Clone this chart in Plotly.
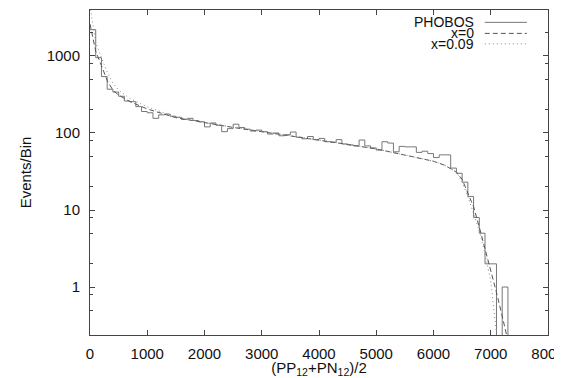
import plotly.graph_objects as go

# ---- data ----
bin_width = 100
hist_counts = [2200, 950, 540, 370, 340, 300, 260, 255, 220, 190,
               183, 155, 172, 176, 165, 160, 150, 155, 145, 140,
               120, 135, 126, 104, 114, 130, 118, 112, 106, 109,
               104, 97, 100, 92, 95, 103, 88, 84, 90, 82,
               85, 77, 76, 82, 72, 70, 68, 81, 68, 64,
               60, 77, 74, 57, 67, 66, 66, 56, 58, 54,
               48, 52, 52, 35, 30, 23, 15, 8, 5, 2,
               2, 0, 1, 0]
model_x = [0, 100, 200, 300, 400, 500, 700, 1000, 1500, 2000, 2500, 3000, 3500, 4000,
           4500, 5000, 5500, 6000, 6200, 6400, 6500, 6600, 6700, 6800, 6900, 7000,
           7100, 7200, 7300]
model_x0 = [2600, 1150, 750, 480, 360, 310, 255, 205, 158, 135, 118, 104, 92, 81,
            71, 62, 52, 43, 38, 31, 25, 17, 11, 6, 3.2, 1.7, 0.85, 0.42, 0.2]
model_x009 = [4500, 1500, 950, 620, 445, 360, 280, 218, 162, 137, 119, 104, 92, 81,
              71, 62, 52, 43, 38, 31, 23, 15, 9, 5.4, 2.7, 1.2, 0.25, 0.08, 0.03]
x_ticks = [0, 1000, 2000, 3000, 4000, 5000, 6000, 7000, 8000]
y_ticks = [1, 10, 100, 1000]
legend_names = ["PHOBOS", "x=0", "x=0.09"]

FLOOR = 1e-3  # empty bins drawn down past the axis
edges = [i * bin_width for i in range(len(hist_counts) + 1)]
hx = edges
hy = [c if c > 0 else FLOOR for c in hist_counts] + [FLOOR]

FONT = "Liberation Sans, Arial, sans-serif"
C_AX = "#444444"
C_HIST = "#777777"
C_DASH = "#555555"
C_DOT = "#888888"

fig = go.Figure()
fig.add_trace(go.Scatter(x=hx, y=hy, mode="lines", line=dict(shape="hv", color=C_HIST, width=1),
                         name=legend_names[0], showlegend=False))
fig.add_trace(go.Scatter(x=model_x, y=model_x0, mode="lines",
                         line=dict(color=C_DASH, width=1, dash="5px,3px"),
                         name=legend_names[1], showlegend=False))
fig.add_trace(go.Scatter(x=model_x, y=model_x009, mode="lines",
                         line=dict(color=C_DOT, width=1, dash="1px,3px"),
                         name=legend_names[2], showlegend=False))

# manual legend (text left of sample line)
styles = [dict(color=C_HIST, width=1), dict(color=C_DASH, width=1, dash="5px,3px"),
          dict(color=C_DOT, width=1, dash="1px,3px")]
leg_y = [0.962, 0.928, 0.896]
for name, st, yy in zip(legend_names, styles, leg_y):
    fig.add_annotation(x=0.841, y=yy, xref="paper", yref="paper", text=name, showarrow=False,
                       xanchor="right", yanchor="middle", borderpad=0,
                       font=dict(family=FONT, size=14, color="#111"))
    fig.add_shape(type="line", xref="paper", yref="paper", x0=0.862, x1=0.954, y0=yy, y1=yy, line=st)

# page body has an 8px default margin; figure sized/margined to compensate
fig.update_layout(
    width=554, height=370,
    margin=dict(l=82, r=14, t=2, b=43, autoexpand=False),
    paper_bgcolor="white", plot_bgcolor="white",
    font=dict(family=FONT, size=15, color="#111"),
    showlegend=False,
)
fig.update_xaxes(
    range=[0, 8000], tickvals=x_ticks, ticktext=[str(v) for v in x_ticks],
    ticks="inside", ticklen=5, tickcolor=C_AX, showline=True, linecolor=C_AX, linewidth=1,
    mirror="ticks", showgrid=False, zeroline=False, automargin=False,
    ticklabeloverflow="allow",
    title=dict(text="(PP<sub>12</sub>+PN<sub>12</sub>)/2", standoff=4, font=dict(size=15)),
    ticklabelstandoff=5,
)
fig.update_yaxes(
    type="log", range=[-0.623, 3.597], tickvals=y_ticks, ticktext=[str(v) for v in y_ticks],
    ticks="inside", ticklen=5, tickcolor=C_AX, showline=True, linecolor=C_AX, linewidth=1,
    mirror="ticks", showgrid=False, zeroline=False, automargin=False,
    minor=dict(tickvals=[0.5, 0.8, 2, 5, 8, 20, 50, 80, 200, 500, 800, 2000],
               ticks="inside", ticklen=3, tickcolor=C_AX),
    title=dict(text="Events/Bin", standoff=11, font=dict(size=15)),
    ticklabelstandoff=6,
)

fig.write_html("out.html")
